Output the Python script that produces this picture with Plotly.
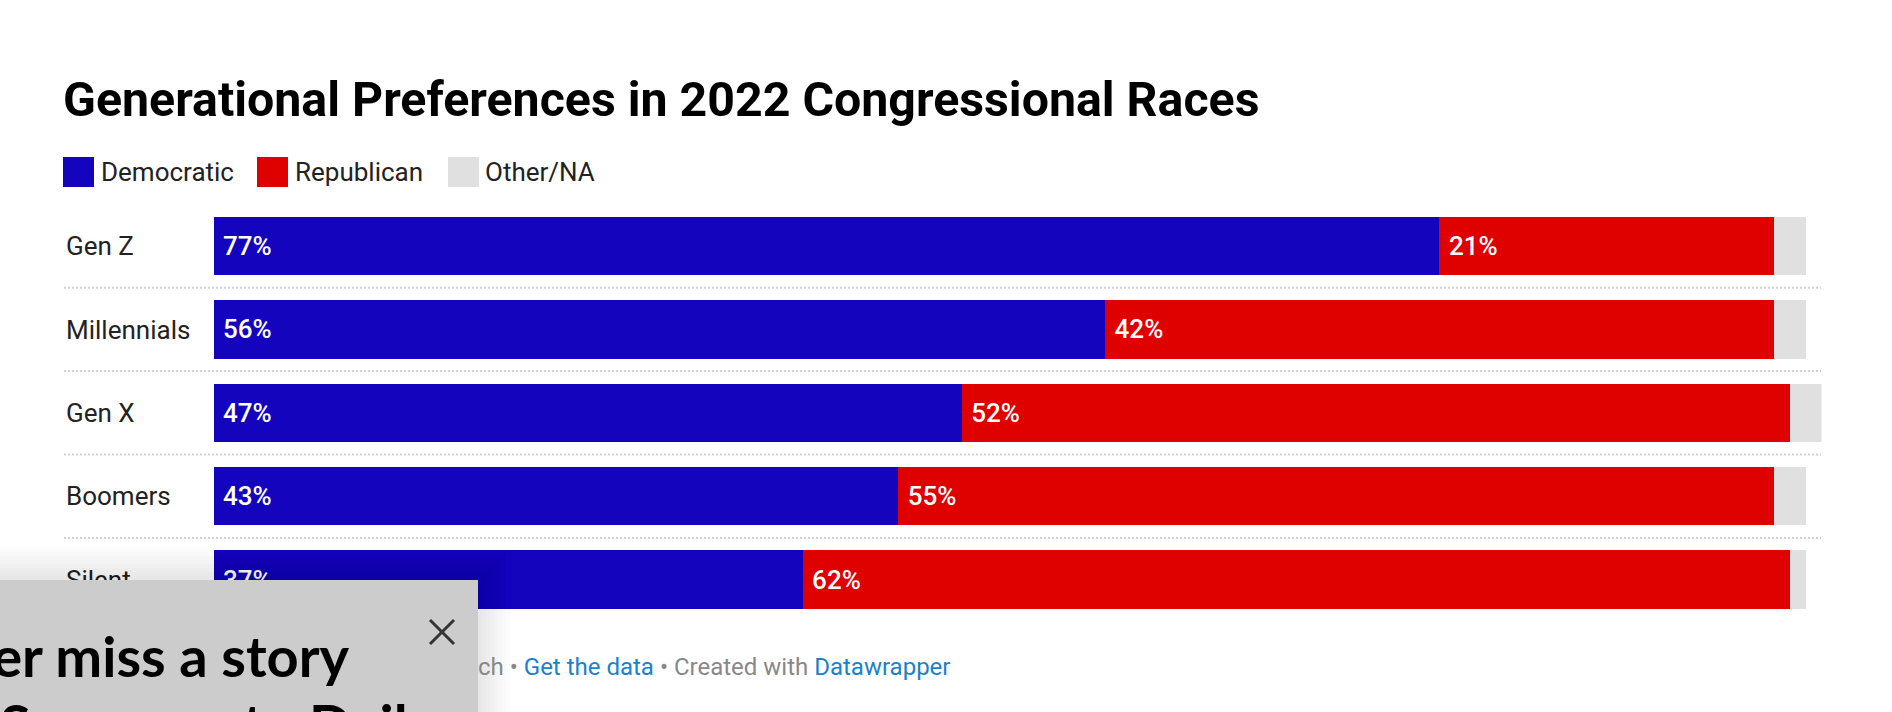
import plotly.graph_objects as go

W, H = 1892, 712

# ---- data ----
categories = ["Gen Z", "Millennials", "Gen X", "Boomers", "Silent"]
democratic = [77, 56, 47, 43, 37]
republican = [21, 42, 52, 55, 62]
other_na = [2, 2, 2, 2, 1]
series_names = ["Democratic", "Republican", "Other/NA"]
title_text = "Generational Preferences in 2022 Congressional Races"

BLUE = "#1404bd"
RED = "#de0100"
GRAY = "#e0e0e0"
TXT = "#222222"
LINK = "#1a82cc"
FOOT = "#888888"


def px(x):
    return x / W


def py(y):
    return 1 - y / H


def pct(vals):
    return ["\u00a0" + f"{v}%" for v in vals]


label_font = dict(family="Roboto", size=26, color="white", weight=500)

fig = go.Figure()
fig.add_trace(go.Bar(
    y=categories, x=democratic, orientation="h", name=series_names[0],
    marker=dict(color=BLUE, line=dict(width=0)),
    text=pct(democratic), textposition="inside", insidetextanchor="start",
    textfont=label_font,
))
fig.add_trace(go.Bar(
    y=categories, x=republican, orientation="h", name=series_names[1],
    marker=dict(color=RED, line=dict(width=0)),
    text=pct(republican), textposition="inside", insidetextanchor="start",
    textfont=label_font,
))
fig.add_trace(go.Bar(
    y=categories, x=other_na, orientation="h", name=series_names[2],
    marker=dict(color=GRAY, line=dict(width=0)),
))

# geometry (pixels)
x0_px, per_pct = 213.6, 15.92
xmax = 101
top_px, row_h = 204.3, 83.4

shapes = []
# dotted separators
for i in range(len(categories) - 1):
    shapes.append(dict(type="line", xref="paper", yref="y",
                       x0=px(64), x1=px(1821), y0=i + 0.5, y1=i + 0.5,
                       line=dict(color="#d0d0d0", width=2, dash="2px,2px"),
                       layer="above"))

# legend swatches
legend_x = [(63, 94, 98.5), (257, 288, 292.5), (448, 479, 482.5)]
colors = [BLUE, RED, GRAY]
annotations = []
for (a, b, t), c, n in zip(legend_x, colors, series_names):
    shapes.append(dict(type="rect", xref="paper", yref="paper",
                       x0=px(a), x1=px(b), y0=py(187), y1=py(157),
                       fillcolor=c, line=dict(width=0)))
    annotations.append(dict(xref="paper", yref="paper", x=px(t), y=py(172),
                            xanchor="left", yanchor="middle", showarrow=False,
                            text=n, font=dict(family="Roboto", size=26, color=TXT)))

# title
annotations.append(dict(xref="paper", yref="paper", x=px(61), y=py(99.5),
                        xanchor="left", yanchor="middle", showarrow=False,
                        text=title_text,
                        font=dict(family="Roboto", size=48.3, color="#000000", weight=700)))

# footer
annotations.append(dict(xref="paper", yref="paper", x=px(476), y=py(666.5),
                        xanchor="left", yanchor="middle", showarrow=False,
                        text=("ch \u2022 <span style='color:%s'>Get the data</span> \u2022 Created with "
                              "<span style='color:%s'>Datawrapper</span>") % (LINK, LINK),
                        font=dict(family="Roboto", size=24, color=FOOT)))

# popup overlay (shadow + box)
for k in range(8, 0, -1):
    shapes.append(dict(type="rect", xref="paper", yref="paper",
                       x0=px(-10), x1=px(478 + k * 4), y0=py(712 + 10), y1=py(580 - k * 4),
                       fillcolor="rgba(0,0,0,0.012)", line=dict(width=0), layer="above"))
shapes.append(dict(type="rect", xref="paper", yref="paper",
                   x0=px(-10), x1=px(478), y0=py(722), y1=py(580),
                   fillcolor="#cccccc", line=dict(width=0), layer="above"))
shapes.append(dict(type="line", xref="paper", yref="paper",
                   x0=px(430), x1=px(454), y0=py(620), y1=py(644),
                   line=dict(color="#333333", width=3), layer="above"))
shapes.append(dict(type="line", xref="paper", yref="paper",
                   x0=px(430), x1=px(454), y0=py(644), y1=py(620),
                   line=dict(color="#333333", width=3), layer="above"))
annotations.append(dict(xref="paper", yref="paper", x=px(352), y=py(655),
                        xanchor="right", yanchor="middle", showarrow=False,
                        text="Never miss a story",
                        font=dict(family="Lato", size=56, color="#000000", weight=700)))
annotations.append(dict(xref="paper", yref="paper", x=px(-2), y=py(723),
                        xanchor="left", yanchor="middle", showarrow=False,
                        text="Sacramento Daily",
                        font=dict(family="Lato", size=56, color="#000000", weight=700)))

fig.update_layout(
    width=W, height=H,
    margin=dict(l=0, r=0, t=0, b=0),
    paper_bgcolor="white", plot_bgcolor="white",
    barmode="stack", bargap=0.3,
    showlegend=False,
    xaxis=dict(range=[0, xmax], domain=[px(x0_px), px(x0_px + xmax * per_pct)],
               showgrid=False, zeroline=False, showticklabels=False, showline=False,
               fixedrange=True),
    yaxis=dict(type="category", categoryorder="array", categoryarray=categories,
               range=[len(categories) - 0.5, -0.5],
               domain=[py(top_px + len(categories) * row_h), py(top_px)],
               anchor="free", position=px(62), side="left",
               ticklabelposition="inside", ticklabeloverflow="allow",
               ticks="", showgrid=False, zeroline=False, showline=False,
               tickfont=dict(family="Roboto", size=26, color=TXT), fixedrange=True),
    shapes=shapes,
    annotations=annotations,
    font=dict(family="Roboto"),
)

fig.write_html("out.html", config={"displayModeBar": False, "staticPlot": True},
               post_script="document.body.style.margin='0';document.body.style.overflow='hidden';")
